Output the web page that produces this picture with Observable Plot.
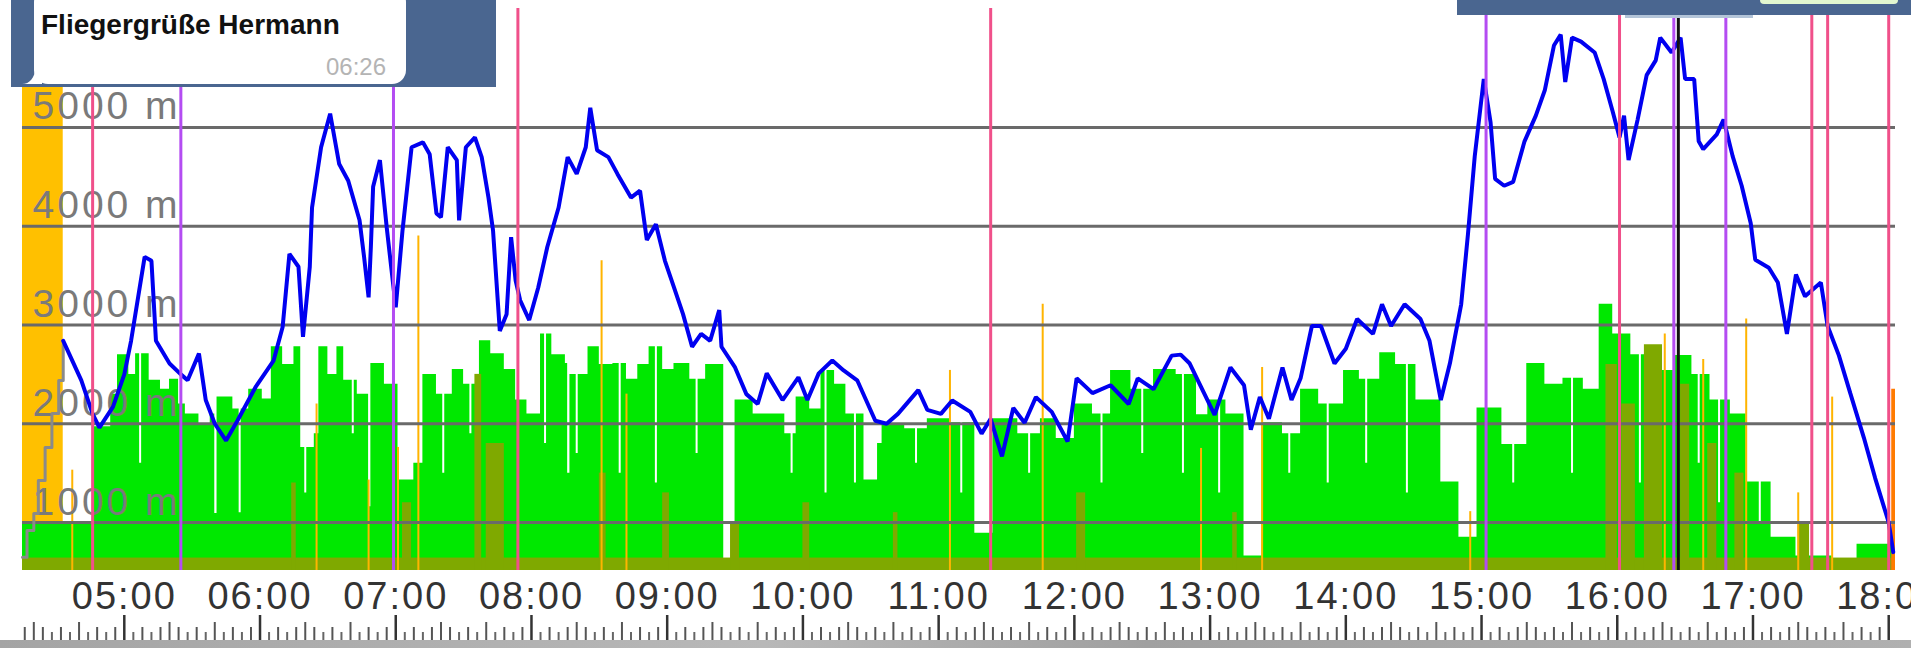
<!DOCTYPE html>
<html><head><meta charset="utf-8">
<script src="https://cdn.jsdelivr.net/npm/d3@7"></script>
<script src="https://cdn.jsdelivr.net/npm/@observablehq/plot@0.6"></script>
<style>
html,body{margin:0;padding:0;background:#fff;}
#wrap{position:relative;width:1911px;height:648px;overflow:hidden;font-family:"Liberation Sans",Arial,sans-serif;}
#chart{position:absolute;left:0;top:0;}
#chart svg{display:block;}
[aria-label="x-axis tick label"] text{letter-spacing:2px;}
.ylab text{letter-spacing:3px;}
#tl{position:absolute;left:11px;top:0;width:485px;height:87px;background:#4a6690;}
#bubble{position:absolute;left:34px;top:-12px;width:372px;height:96px;background:#fff;border-radius:14px;}
#tail{position:absolute;left:20px;top:64px;}
#msg{position:absolute;left:41px;top:9px;font:bold 28px "Liberation Sans",Arial,sans-serif;color:#111;white-space:nowrap;}
#time{position:absolute;left:326px;top:53px;font:24px "Liberation Sans",Arial,sans-serif;color:#b4b4b4;}
#tr{position:absolute;left:1457px;top:0;width:454px;height:15px;background:#4a6690;}
#btn{position:absolute;left:1760px;top:0;width:138px;height:4px;background:#e2f7cf;border-radius:0 0 6px 6px;}
#strip{position:absolute;left:1625px;top:15px;width:128px;height:3px;background:#b3c4d8;}
#bar{position:absolute;left:0;top:640px;width:1911px;height:8px;background:linear-gradient(90deg,#a4a4a4,#b8b8b8 40%,#a0a0a0 60%,#b0b0b0);}
</style></head><body>
<div id="wrap">
<div id="chart"></div>
<div id="tl"></div>
<svg id="tail" width="24" height="24"><path d="M2,20 C10,20 14,14 16,4 L22,4 L22,20 Z" fill="#fff"/></svg>
<div id="bubble"></div>
<div id="msg">Fliegergrüße Hermann</div>
<div id="time">06:26</div>
<div id="tr"></div>
<div id="btn"></div>
<div id="strip"></div>
<div id="bar"></div>
</div>
<script>
// ---- data ----
const xDomain = ["04:15", "18:03"];
const yDomain = [514, 6205];
const yTicks = [1000, 2000, 3000, 4000, 5000];
const hourLabels = ["05:00","06:00","07:00","08:00","09:00","10:00","11:00","12:00","13:00","14:00","15:00","16:00","17:00","18:00"];

const altTime = ["04:33","04:41","04:46","04:49","04:55","05:00","05:03","05:09","05:12","05:14","05:20","05:25","05:28","05:33","05:36","05:40","05:45","05:50","05:58","06:06","06:10","06:13","06:17","06:19","06:22","06:23","06:27","06:31","06:35","06:39","06:44","06:46","06:48","06:49","06:50","06:53","06:56","07:00","07:03","07:07","07:12","07:15","07:18","07:20","07:23","07:27","07:28","07:31","07:35","07:38","07:41","07:43","07:46","07:49","07:51","07:53","07:55","07:59","08:03","08:07","08:12","08:16","08:20","08:24","08:26","08:29","08:34","08:38","08:44","08:48","08:51","08:55","08:59","09:03","09:07","09:11","09:15","09:19","09:23","09:24","09:30","09:35","09:40","09:44","09:51","09:58","10:02","10:07","10:13","10:18","10:24","10:32","10:37","10:42","10:51","10:55","11:01","11:06","11:14","11:19","11:23","11:28","11:33","11:38","11:43","11:50","11:57","12:01","12:08","12:16","12:24","12:28","12:35","12:43","12:47","12:51","13:02","13:09","13:15","13:18","13:22","13:26","13:32","13:36","13:40","13:45","13:49","13:55","14:00","14:05","14:12","14:16","14:20","14:26","14:33","14:37","14:42","14:46","14:51","14:54","14:57","15:01","15:04","15:06","15:10","15:14","15:19","15:24","15:28","15:32","15:35","15:37","15:40","15:44","15:50","15:54","15:58","16:01","16:03","16:05","16:09","16:13","16:17","16:19","16:24","16:28","16:30","16:34","16:36","16:38","16:44","16:47","16:51","16:55","16:59","17:01","17:07","17:11","17:15","17:19","17:23","17:30","17:33","17:38","17:43","17:49","17:54","18:00","18:02"];
const altMeters = [2840,2440,2100,1960,2170,2500,2840,3690,3650,2840,2610,2500,2440,2710,2240,2000,1830,2030,2370,2640,2980,3720,3590,2880,3590,4190,4800,5140,4630,4460,4060,3690,3280,3790,4400,4670,3990,3180,3960,4800,4850,4730,4130,4090,4800,4670,4060,4800,4900,4700,4290,3960,2940,3110,3890,3450,3250,3050,3380,3790,4190,4700,4530,4800,5200,4770,4700,4530,4290,4360,3860,4020,3650,3380,3110,2780,2910,2840,3150,2780,2570,2300,2200,2510,2240,2470,2240,2510,2640,2540,2440,2030,2000,2100,2340,2140,2100,2236,2120,1900,2050,1670,2160,2010,2270,2120,1820,2460,2310,2390,2200,2460,2350,2690,2700,2610,2090,2570,2390,1940,2270,2050,2570,2240,2460,2990,2990,2610,2760,3060,2910,3210,2990,3210,3060,2840,2240,2610,3210,3920,4710,5490,5050,4480,4410,4450,4860,5120,5380,5830,5940,5460,5910,5870,5760,5490,5160,4900,5120,4670,5080,5530,5680,5910,5760,5910,5490,5490,4860,4780,4930,5080,4710,4410,4030,3660,3580,3430,2910,3510,3290,3430,2990,2690,2310,1860,1450,1000,700];

const towTime = ["04:15","04:17","04:20","04:22","04:25","04:28","04:31","04:33"];
const towMeters = [649,919,1091,1425,1760,2104,2438,2800];

const terrainTime = ["04:15","04:33","04:46","04:54","04:57","05:02","05:05","05:11","05:16","05:20","05:24","05:27","05:33","05:38","05:40","05:41","05:48","05:55","06:01","06:05","06:10","06:15","06:18","06:24","06:26","06:30","06:34","06:37","06:43","06:48","06:49","06:55","07:01","07:08","07:12","07:18","07:25","07:30","07:37","07:42","07:48","07:53","07:58","08:04","08:09","08:15","08:16","08:17","08:25","08:30","08:36","08:42","08:47","08:52","08:58","09:03","09:10","09:17","09:25","09:30","09:38","09:47","09:52","09:57","10:03","10:08","10:14","10:19","10:27","10:33","10:35","10:45","10:55","11:05","11:16","11:24","11:35","11:45","11:52","12:00","12:08","12:16","12:25","12:35","12:45","12:54","12:59","13:07","13:15","13:23","13:32","13:40","13:48","13:59","14:06","14:15","14:22","14:31","14:42","14:50","14:58","15:09","15:20","15:28","15:36","15:45","15:52","15:58","16:06","16:14","16:25","16:33","16:41","16:50","16:57","17:08","17:19","17:35","17:46","18:03"];
const terrainMeters = [1000,1000,1970,2300,2700,2500,2710,2440,2350,2450,2200,2100,2000,2100,1090,2270,2150,2350,2250,2780,2600,2780,1760,1900,2780,2500,2780,2440,2300,1160,2610,2400,1430,1600,2500,2300,2550,2400,2840,2710,2550,2240,2100,2910,2700,2610,1500,2500,2780,2600,2610,2450,2600,2780,2550,2610,2450,2600,550,2240,2100,2100,1900,2270,2150,2540,2400,2100,1430,1800,2000,1950,2050,2010,890,2050,1900,2050,1850,2200,2100,2540,2350,2550,2500,2090,2240,2100,660,2010,1900,2350,2200,2540,2450,2720,2600,2240,1410,850,2160,1790,2610,2400,2460,2350,3210,2910,2700,2540,2690,2500,2240,2100,1410,850,660,551,780,780];

// narrow white notches seen in the terrain bars
const notchTime = ["05:07","05:51","06:20","06:41","07:05","07:21","07:33","08:06","08:20","08:39","08:55","09:13","09:55","10:10","10:23","10:50","11:10","11:40","12:12","12:30","12:48","13:04","13:35","13:52","14:09","14:27","15:14","15:40","16:10","16:36","16:45","17:03"];
const notchMeters = [1600,1100,1300,1900,1700,1500,1900,1800,1700,1500,1400,1700,1500,1300,1400,1600,1300,1500,1400,1700,1500,1300,1500,1400,1600,1300,1400,1500,1400,1600,1200,1000];

const oliveStart = ["04:15","06:14","07:03","07:35","07:40","08:30","08:58","09:28","10:00","10:40","12:01","13:10","15:55","16:02","16:12","16:28","16:40","16:52","17:20"];
const oliveEnd   = ["18:03","06:16","07:07","07:38","07:48","08:33","09:01","09:32","10:03","10:42","12:05","13:12","16:00","16:08","16:20","16:32","16:44","16:56","17:25"];
const oliveMeters = [640,1400,1200,2500,1800,1500,1300,1000,1200,1100,1300,1100,2600,2200,2800,2400,1800,1500,1000];

const spikeTime = ["04:37","06:25","06:48","07:01","07:10","08:31","08:42","11:05","11:46","12:56","13:23","14:55","16:21","16:38","16:57","17:20","17:35"];
const spikeMeters = [1530,2200,1430,1760,3900,3650,2300,2540,3210,1750,2570,1110,2910,2650,3060,1300,2270];
const lastSpike = {time: "18:02", meters: 2350};

const enginePeriod = {start: "04:15", end: "04:33"};
const pinkMarks = ["04:46","07:54","11:23","16:01","17:26","17:33","18:00"];
const purpleMarks = ["05:25","06:59","15:02","16:25","16:48"];
const cursorMark = ["16:27"];

// ---- helpers ----
const toM = s => { const [h, m] = s.split(":").map(Number); return (h - 5) * 60 + m; };
const zip = (t, v) => t.map((d, i) => ({x: toM(d), y: v[i]}));
const altitude = zip(altTime, altMeters);
const tow = zip(towTime, towMeters);
const terrain = zip(terrainTime, terrainMeters);
const notches = zip(notchTime, notchMeters);
const olive = oliveStart.map((s, i) => ({x1: toM(s), x2: toM(oliveEnd[i]), y: oliveMeters[i]}));
const spikes = zip(spikeTime, spikeMeters);
const hourM = hourLabels.map(toM);
const mod60 = m => ((m % 60) + 60) % 60;
const allTicks = d3.range(toM("04:16"), toM("18:04"), 4);
const minor = allTicks.filter(m => mod60(m) !== 0);
const tallT = minor.filter(m => mod60(m) % 20 === 0);
const midT = minor.filter(m => mod60(m) % 20 !== 0 && mod60(m) % 8 === 0);
const shortT = minor.filter(m => mod60(m) % 20 !== 0 && mod60(m) % 8 !== 0);

const plot = Plot.plot({
  width: 1911, height: 640,
  marginLeft: 22, marginRight: 16, marginTop: 8, marginBottom: 70,
  style: {fontFamily: "Liberation Sans, Arial, sans-serif", background: "transparent", overflow: "visible"},
  x: {domain: xDomain.map(toM), axis: null},
  y: {domain: yDomain, axis: null},
  marks: [
    Plot.rect([enginePeriod], {x1: d => toM(d.start), x2: d => toM(d.end), fill: "#ffc000"}),
    Plot.areaY(terrain, {x: "x", y: "y", curve: "step-after", fill: "#00e800", clip: true}),
    Plot.ruleX(notches, {x: "x", y1: "y", y2: yDomain[1], stroke: "#fff", strokeWidth: 2}),
    Plot.rectY(olive, {x1: "x1", x2: "x2", y: "y", fill: "#7fa900", clip: true}),
    Plot.ruleX(spikes, {x: "x", y: "y", stroke: "#ffb400", strokeWidth: 2, clip: true}),
    Plot.ruleX([lastSpike], {x: d => toM(d.time), y: "meters", stroke: "#ff7a00", strokeWidth: 4, clip: true}),
    Plot.ruleY(yTicks, {stroke: "#6a6a6a", strokeWidth: 3}),
    Plot.text(yTicks, {y: d => d, text: d => `${d} m`, frameAnchor: "left", dx: 10, dy: -8, textAnchor: "start", lineAnchor: "bottom", fontSize: 39, fill: "#7a7a7a", className: "ylab"}),
    Plot.line(tow, {x: "x", y: "y", stroke: "#8a8a8a", strokeWidth: 3, curve: "step-after"}),
    Plot.line(altitude, {x: "x", y: "y", stroke: "#0000f0", strokeWidth: 4, strokeLinejoin: "miter"}),
    Plot.ruleX(pinkMarks, {x: toM, stroke: "#f0508a", strokeWidth: 3}),
    Plot.ruleX(purpleMarks, {x: toM, stroke: "#b44cf2", strokeWidth: 3}),
    Plot.ruleX(cursorMark, {x: toM, stroke: "#111", strokeWidth: 3}),
    Plot.axisX(hourM, {tickSize: 0, tickPadding: 12, tickFormat: d => hourLabels[hourM.indexOf(d)], fontSize: 38, fill: "#333", label: null}),
    Plot.axisX(hourM, {tickSize: 25, dy: 45, tickFormat: () => "", stroke: "#333", strokeWidth: 2.5, label: null}),
    Plot.axisX(tallT, {tickSize: 18, dy: 52, tickFormat: () => "", stroke: "#555", strokeWidth: 2, label: null}),
    Plot.axisX(midT, {tickSize: 13, dy: 57, tickFormat: () => "", stroke: "#555", strokeWidth: 2, label: null}),
    Plot.axisX(shortT, {tickSize: 8, dy: 62, tickFormat: () => "", stroke: "#666", strokeWidth: 2, label: null})
  ]
});
document.getElementById("chart").appendChild(plot);
</script>
</body></html>
